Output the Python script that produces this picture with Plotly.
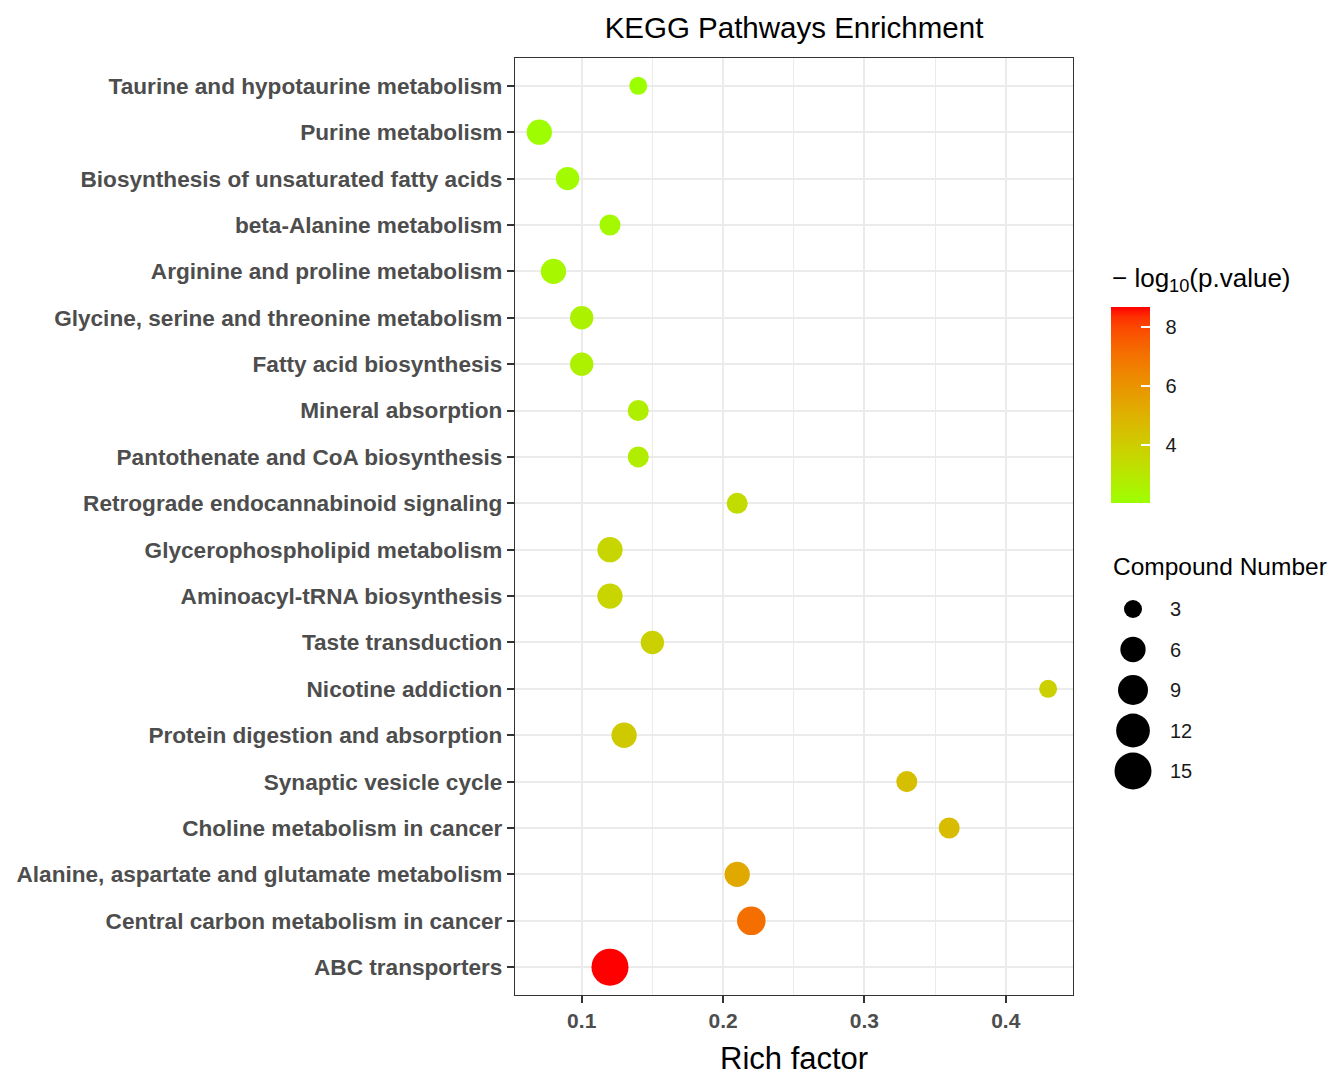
import numpy as np
import plotly.graph_objects as go

# ---------------- data ----------------
pathways = [
    "Taurine and hypotaurine metabolism",
    "Purine metabolism",
    "Biosynthesis of unsaturated fatty acids",
    "beta-Alanine metabolism",
    "Arginine and proline metabolism",
    "Glycine, serine and threonine metabolism",
    "Fatty acid biosynthesis",
    "Mineral absorption",
    "Pantothenate and CoA biosynthesis",
    "Retrograde endocannabinoid signaling",
    "Glycerophospholipid metabolism",
    "Aminoacyl-tRNA biosynthesis",
    "Taste transduction",
    "Nicotine addiction",
    "Protein digestion and absorption",
    "Synaptic vesicle cycle",
    "Choline metabolism in cancer",
    "Alanine, aspartate and glutamate metabolism",
    "Central carbon metabolism in cancer",
    "ABC transporters",
]
rich_factor = [0.14, 0.07, 0.09, 0.12, 0.08, 0.10, 0.10, 0.14, 0.14, 0.21,
               0.12, 0.12, 0.15, 0.43, 0.13, 0.33, 0.36, 0.21, 0.22, 0.12]
neg_log10_p = [2.03, 2.10, 2.20, 2.30, 2.35, 2.55, 2.60, 2.70, 2.75, 3.40,
               3.65, 3.70, 3.85, 3.90, 4.10, 4.50, 4.60, 5.30, 7.10, 8.68]
compound_number = [3, 6, 5, 4, 6, 5, 5, 4, 4, 4,
                   6, 6, 5, 3, 6, 4, 4, 6, 8, 15]

size_breaks = [3, 6, 9, 12, 15]
color_ticks = [4, 6, 8]
x_ticks = [0.1, 0.2, 0.3, 0.4]

# ---------------- helpers ----------------
def size_px(n):
    n = np.asarray(n, dtype=float)
    return 10.7 + 26.3 * np.sqrt((n - 2.0) / 13.0)

M = np.array([[0.4124, 0.3576, 0.1805],
              [0.2126, 0.7152, 0.0722],
              [0.0193, 0.1192, 0.9505]])
Minv = np.linalg.inv(M)
WHITE = np.array([0.95047, 1.0, 1.08883])
D = 6 / 29

def hex_to_lab(h):
    rgb = np.array([int(h[i:i + 2], 16) for i in (1, 3, 5)]) / 255.0
    lin = np.where(rgb <= 0.04045, rgb / 12.92, ((rgb + 0.055) / 1.055) ** 2.4)
    xyz = M @ lin / WHITE
    f = np.where(xyz > D ** 3, np.cbrt(xyz), xyz / (3 * D * D) + 4 / 29)
    return np.array([116 * f[1] - 16, 500 * (f[0] - f[1]), 200 * (f[1] - f[2])])

def lab_to_hex(lab):
    L, a, b = lab
    fy = (L + 16) / 116
    fx = fy + a / 500
    fz = fy - b / 200
    f = np.array([fx, fy, fz])
    xyz = np.where(f > D, f ** 3, 3 * D * D * (f - 4 / 29)) * WHITE
    lin = Minv @ xyz
    lin = np.clip(lin, 0, 1)
    rgb = np.where(lin <= 0.0031308, 12.92 * lin, 1.055 * lin ** (1 / 2.4) - 0.055)
    rgb = np.clip(np.round(rgb * 255), 0, 255).astype(int)
    return "#%02x%02x%02x" % tuple(rgb)

low_lab = hex_to_lab("#9cff00")
high_lab = hex_to_lab("#ff0000")
colorscale = [[t, lab_to_hex(low_lab + (high_lab - low_lab) * t)]
              for t in np.linspace(0, 1, 21)]

# ---------------- layout geometry ----------------
W, H = 1330, 1076
ML, MR, MT, MB = 10, 10, 58, 81
PW, PH = W - ML - MR, H - MT - MB

def px_x(px):
    return (px - ML) / PW

def px_y(py):
    return (H - MB - py) / PH

FONT = "Liberation Sans, Arial, Helvetica, sans-serif"
GRID = "#EBEBEB"
NB = "\u00a0"

fig = go.Figure()

fig.add_trace(go.Scatter(
    x=rich_factor, y=pathways, mode="markers",
    marker=dict(
        size=size_px(compound_number),
        color=neg_log10_p, cmin=min(neg_log10_p), cmax=max(neg_log10_p),
        colorscale=colorscale, opacity=1, line=dict(width=0),
        colorbar=dict(
            x=px_x(1111), xanchor="left", xpad=0,
            y=px_y(307), yanchor="top", ypad=0,
            len=196, lenmode="pixels", thickness=39, thicknessmode="pixels",
            outlinewidth=0, tickvals=color_ticks,
            ticktext=[NB * 2 + str(v) for v in color_ticks],
            ticks="inside", ticklen=9,
            tickcolor="white", tickwidth=1.5,
            tickfont=dict(size=20, color="#1a1a1a", family=FONT),
        ),
    ),
    showlegend=False, hoverinfo="x+y",
))

# size legend drawn on an auxiliary pair of axes
fig.add_trace(go.Scatter(
    x=[0.5] * len(size_breaks), y=list(range(len(size_breaks))),
    mode="markers", xaxis="x2", yaxis="y2",
    marker=dict(size=size_px(size_breaks), color="black", opacity=1,
                line=dict(width=0)),
    showlegend=False, hoverinfo="skip", cliponaxis=False,
))

annotations = []
for i, v in enumerate(size_breaks):
    annotations.append(dict(
        x=px_x(1168), xref="paper", y=i, yref="y2", text=str(v),
        showarrow=False, xanchor="left", yanchor="middle",
        font=dict(size=20, color="#1a1a1a", family=FONT)))

annotations += [
    dict(x=px_x(1110), xref="paper", y=px_y(279), yref="paper",
         text="\u2212 log<sub>10</sub>(p.value)", showarrow=False,
         xanchor="left", yanchor="middle",
         font=dict(size=26, color="black", family=FONT)),
    dict(x=px_x(1111), xref="paper", y=px_y(566), yref="paper",
         text="Compound Number", showarrow=False,
         xanchor="left", yanchor="middle",
         font=dict(size=24.5, color="black", family=FONT)),
    dict(x=px_x(794), xref="paper", y=px_y(1058), yref="paper",
         text="Rich factor", showarrow=False,
         xanchor="center", yanchor="middle",
         font=dict(size=31, color="black", family=FONT)),
]

n_cat = len(pathways)
fig.update_layout(
    width=W, height=H,
    margin=dict(l=ML, r=MR, t=MT, b=MB),
    paper_bgcolor="white", plot_bgcolor="white",
    font=dict(family=FONT),
    title=dict(text="KEGG Pathways Enrichment", x=794 / W, xanchor="center",
               xref="container", y=1 - 28 / H, yref="container", yanchor="middle",
               font=dict(size=29.5, color="black", family=FONT)),
    xaxis=dict(
        domain=[px_x(515), px_x(1073)], range=[0.0528, 0.4476],
        tickvals=x_ticks, ticktext=[f"{v:.1f}" for v in x_ticks],
        showgrid=True, gridcolor=GRID, gridwidth=2,
        minor=dict(dtick=0.05, tick0=0, showgrid=True, gridcolor=GRID,
                   gridwidth=1.2, ticks=""),
        ticks="outside", ticklen=7, tickwidth=1.5, tickcolor="#333333",
        tickfont=dict(size=21, color="#4D4D4D", family=FONT, weight="bold"),
        showline=True, linecolor="#333333", linewidth=1.2, mirror=True,
        zeroline=False, fixedrange=True,
    ),
    yaxis=dict(
        domain=[0, 1], range=[n_cat - 1 + 0.6, -0.6],
        categoryorder="array", categoryarray=pathways,
        showgrid=True, gridcolor=GRID, gridwidth=2,
        ticks="outside", ticklen=7, tickwidth=1.5, tickcolor="#333333",
        tickfont=dict(size=22.6, color="#4D4D4D", family=FONT, weight="bold"),
        showline=True, linecolor="#333333", linewidth=1.2, mirror=True,
        zeroline=False, automargin=False, fixedrange=True,
    ),
    xaxis2=dict(domain=[px_x(1113), px_x(1153)], range=[0, 1], anchor="y2",
                visible=False, fixedrange=True),
    yaxis2=dict(domain=[px_y(791.25), px_y(588.75)], range=[4.5, -0.5],
                anchor="x2", visible=False, fixedrange=True),
    annotations=annotations,
)

fig.write_html("out.html")
